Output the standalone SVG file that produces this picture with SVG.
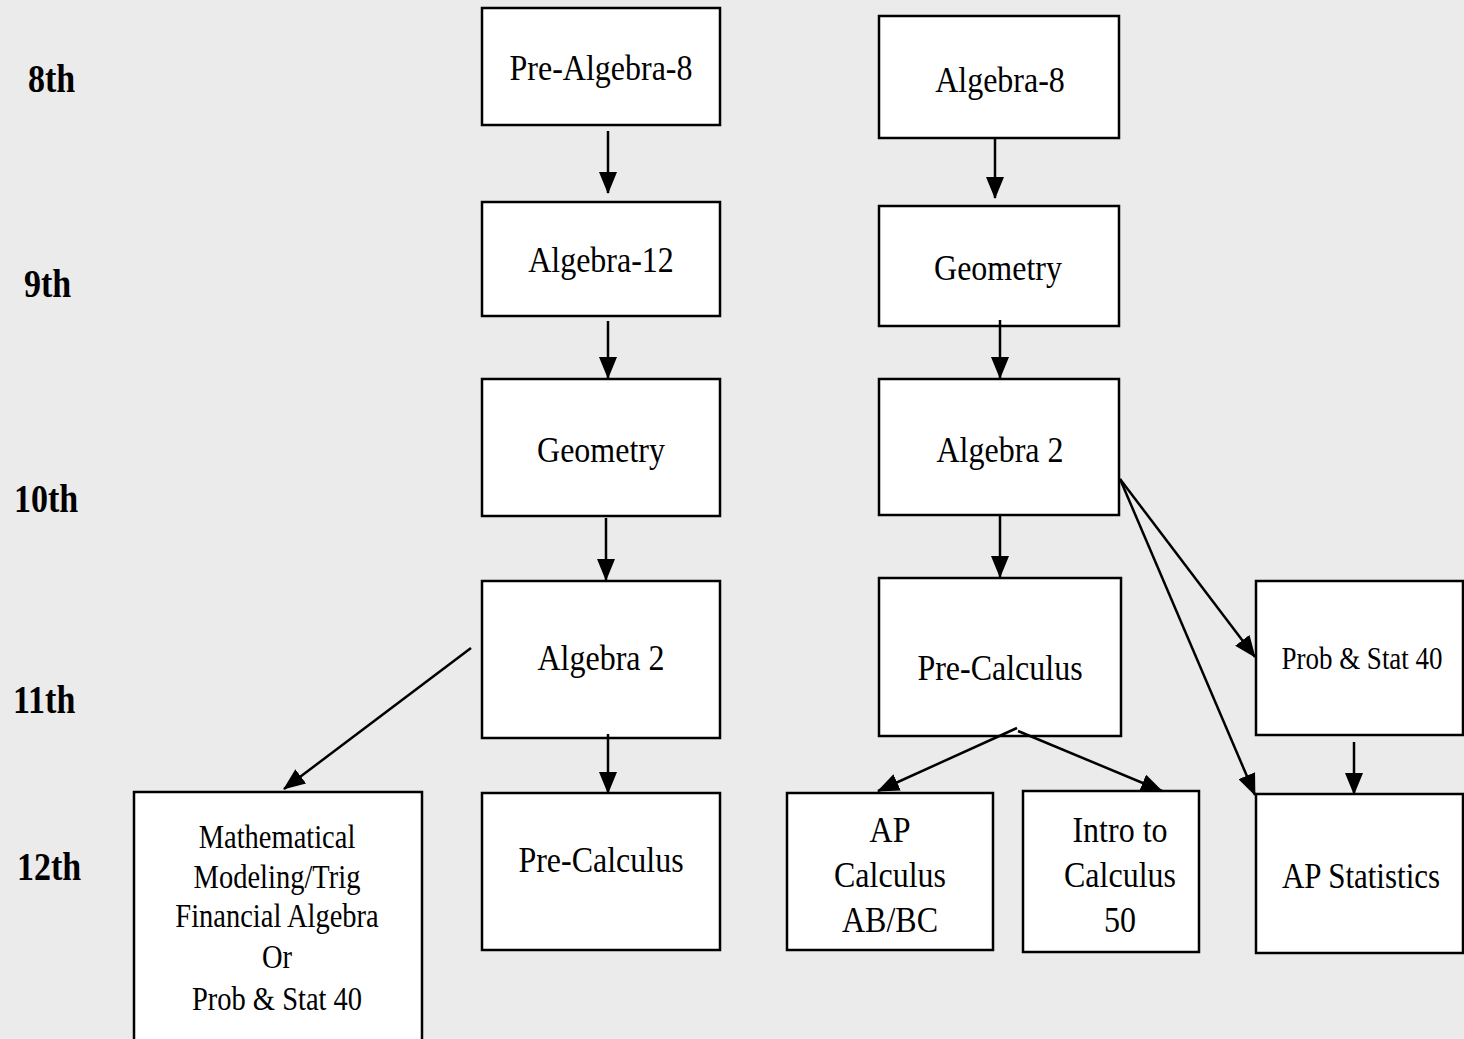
<svg xmlns="http://www.w3.org/2000/svg" width="1464" height="1039" viewBox="0 0 1464 1039">
<defs>
<marker id="ah" markerUnits="userSpaceOnUse" markerWidth="22" markerHeight="18" viewBox="0 0 22 18" refX="21" refY="9" orient="auto">
<path d="M0,0 L22,9 L0,18 z" fill="#000"/>
</marker>
<style>
.box{fill:#fff;stroke:#000;stroke-width:2.5}
text{font-family:'Liberation Serif','Times New Roman',Times,'DejaVu Serif',serif}
.t{font-size:32px;fill:#000;text-anchor:middle}
.s{font-size:27px}
.m{font-size:28.5px}
.yr{font-size:34px;font-weight:bold;fill:#000}
.c line{stroke:#000;stroke-width:2.5;marker-end:url(#ah)}
</style>
</defs>
<rect x="0" y="0" width="1464" height="1039" fill="#ebebeb"/>

<g id="years" font-family="'Liberation Serif', serif">
<text class="yr" transform="translate(28,92) scale(1,1.15)">8th</text>
<text class="yr" transform="translate(24,297) scale(1,1.15)">9th</text>
<text class="yr" transform="translate(14,512) scale(1,1.15)">10th</text>
<text class="yr" transform="translate(13,713) scale(1,1.15)">11th</text>
<text class="yr" transform="translate(17,880) scale(1,1.15)">12th</text>
</g>

<g id="n-prealg8"><rect class="box" x="482" y="8" width="238" height="117"/><text class="t" transform="translate(601,80) scale(1,1.15)">Pre-Algebra-8</text></g>
<g id="n-alg12"><rect class="box" x="482" y="202" width="238" height="114"/><text class="t" transform="translate(601,272) scale(1,1.15)">Algebra-12</text></g>
<g id="n-geomL"><rect class="box" x="482" y="379" width="238" height="137"/><text class="t" transform="translate(601,462) scale(1,1.15)">Geometry</text></g>
<g id="n-alg2L"><rect class="box" x="482" y="581" width="238" height="157"/><text class="t" transform="translate(601,670) scale(1,1.15)">Algebra 2</text></g>
<g id="n-precalcL"><rect class="box" x="482" y="793" width="238" height="157"/><text class="t" transform="translate(601,872) scale(1,1.15)">Pre-Calculus</text></g>

<g id="n-alg8"><rect class="box" x="879" y="16" width="240" height="122"/><text class="t" transform="translate(1000,92) scale(1,1.15)">Algebra-8</text></g>
<g id="n-geomR"><rect class="box" x="879" y="206" width="240" height="120"/><text class="t" transform="translate(998,280) scale(1,1.15)">Geometry</text></g>
<g id="n-alg2R"><rect class="box" x="879" y="379" width="240" height="136"/><text class="t" transform="translate(1000,462) scale(1,1.15)">Algebra 2</text></g>
<g id="n-precalcR"><rect class="box" x="879" y="578" width="242" height="158"/><text class="t" transform="translate(1000,680) scale(1,1.15)">Pre-Calculus</text></g>

<g id="n-probstat"><rect class="box" x="1256" y="581" width="207" height="154"/><text class="t s" transform="translate(1362,669) scale(1,1.15)">Prob &amp; Stat 40</text></g>
<g id="n-apstat"><rect class="box" x="1256" y="794" width="207" height="159"/><text class="t" transform="translate(1361,888) scale(1,1.15)" style="font-size:31px">AP Statistics</text></g>

<g id="n-apcalc"><rect class="box" x="787" y="793" width="206" height="157"/>
<text class="t" transform="translate(890,842) scale(1,1.15)">AP</text>
<text class="t" transform="translate(890,887) scale(1,1.15)">Calculus</text>
<text class="t" transform="translate(890,932) scale(1,1.15)">AB/BC</text></g>
<g id="n-introcalc"><rect class="box" x="1023" y="791" width="176" height="161"/>
<text class="t" transform="translate(1120,842) scale(1,1.15)">Intro to</text>
<text class="t" transform="translate(1120,887) scale(1,1.15)">Calculus</text>
<text class="t" transform="translate(1120,932) scale(1,1.15)">50</text></g>

<g id="n-math"><rect class="box" x="134" y="792" width="288" height="260"/>
<text class="t m" transform="translate(277,848) scale(1,1.15)">Mathematical</text>
<text class="t m" transform="translate(277,888) scale(1,1.15)">Modeling/Trig</text>
<text class="t m" transform="translate(277,927) scale(1,1.15)">Financial Algebra</text>
<text class="t m" transform="translate(277,968) scale(1,1.15)">Or</text>
<text class="t m" transform="translate(277,1010) scale(1,1.15)">Prob &amp; Stat 40</text></g>

<g id="connectors" class="c">
<line x1="608" y1="131" x2="608" y2="193"/>
<line x1="995" y1="137" x2="995" y2="198"/>
<line x1="608" y1="321" x2="608" y2="378"/>
<line x1="1000" y1="320" x2="1000" y2="378"/>
<line x1="606" y1="518" x2="606" y2="580"/>
<line x1="1000" y1="516" x2="1000" y2="577"/>
<line x1="608" y1="734" x2="608" y2="793"/>
<line x1="1354" y1="742" x2="1354" y2="794"/>
<line x1="471" y1="648" x2="284" y2="789"/>
<line x1="1017" y1="728" x2="878" y2="791"/>
<line x1="1018" y1="731" x2="1162" y2="791"/>
<line x1="1120" y1="479" x2="1255" y2="657"/>
<line x1="1120" y1="479" x2="1255" y2="795"/>
</g>
</svg>
